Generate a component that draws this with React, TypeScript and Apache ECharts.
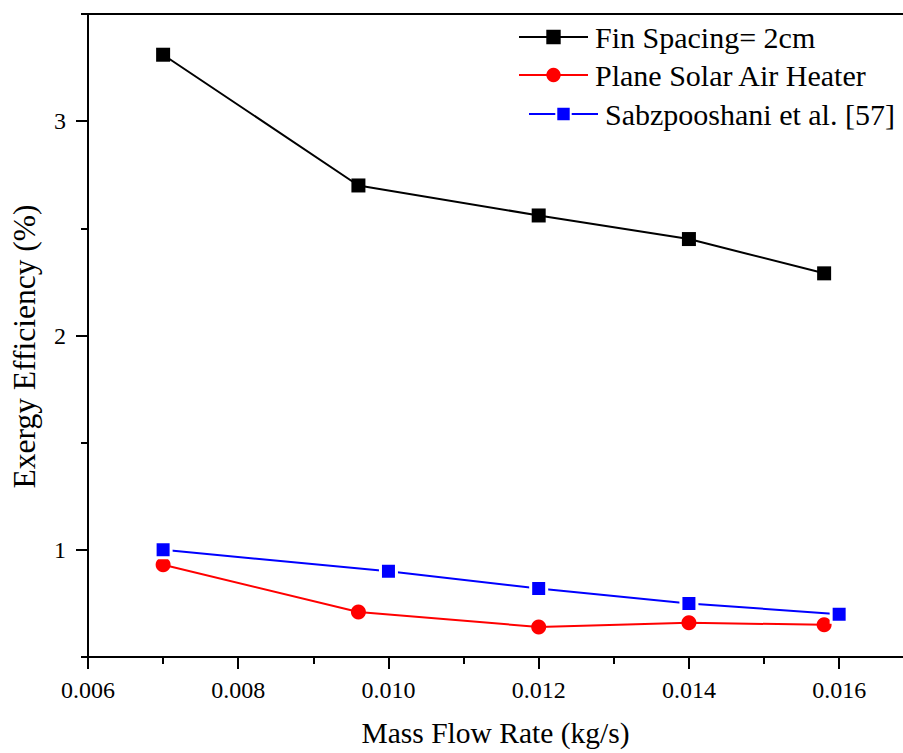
import React, { useEffect, useRef } from "react";
import * as echarts from "echarts";

const finX = [0.007, 0.0096, 0.012, 0.014, 0.0158];
const finY = [3.31, 2.7, 2.56, 2.45, 2.29];
const planeX = [0.007, 0.0096, 0.012, 0.014, 0.0158];
const planeY = [0.93, 0.71, 0.64, 0.66, 0.65];
const sabX = [0.007, 0.01, 0.012, 0.014, 0.016];
const sabY = [1.0, 0.9, 0.82, 0.75, 0.7];

const xMajorTicks = [0.006, 0.008, 0.01, 0.012, 0.014, 0.016];
const xMinorTicks = [0.007, 0.009, 0.011, 0.013, 0.015];
const yMajorTicks = [1, 2, 3];
const yMinorTicks = [0.5, 1.5, 2.5, 3.5];

const seriesNames = ["Fin Spacing= 2cm", "Plane Solar Air Heater", "Sabzpooshani et al. [57]"];

const FONT = "Liberation Serif";
const X_MIN = 0.006;
const X_MAX = 0.01685;
const Y_MIN = 0.5;
const Y_MAX = 3.5;

function pairs(xs: number[], ys: number[]) {
  return xs.map((x, i) => [x, ys[i]]);
}

export default function App() {
  const ref = useRef<HTMLDivElement>(null);
  useEffect(() => {
    if (!ref.current) return;
    const chart = echarts.init(ref.current, undefined, { renderer: "svg" });
    const legendText = { fontFamily: FONT, fontSize: 30, color: "#000", padding: [0, 0, 0, 2] };
    const baseLegend = {
      orient: "vertical",
      padding: 0,
      itemWidth: 69,
      itemHeight: 18,
      textStyle: legendText,
    };
    const tickLabel = { fontFamily: FONT, fontSize: 24, color: "#000" };
    chart.setOption({
      animation: false,
      backgroundColor: "#fff",
      textStyle: { fontFamily: FONT },
      grid: { left: 88, right: 0, top: 14, bottom: 95, containLabel: false },
      legend: [
        { ...baseLegend, data: [seriesNames[0]], left: 518, top: 22 },
        { ...baseLegend, data: [seriesNames[1]], left: 518, top: 60 },
        { ...baseLegend, data: [seriesNames[2]], left: 528, top: 99 },
      ],
      xAxis: [
        {
          type: "value",
          position: "bottom",
          min: X_MIN,
          max: X_MAX,
          interval: 0.002,
          axisLine: { show: true, lineStyle: { color: "#000", width: 2 } },
          axisTick: { show: true, inside: false, length: 12, customValues: xMajorTicks, lineStyle: { color: "#000", width: 2 } },
          axisLabel: {
            show: true,
            customValues: xMajorTicks,
            formatter: (v: number) => "{t|" + v.toFixed(3) + "}",
            margin: 21,
            ...tickLabel,
            rich: { t: { ...tickLabel } },
          },
          splitLine: { show: false },
          name: "Mass Flow Rate (kg/s)",
          nameLocation: "middle",
          nameGap: 61,
          nameTextStyle: { fontFamily: FONT, fontSize: 29.5, color: "#000" },
        },
        {
          type: "value",
          position: "bottom",
          min: X_MIN,
          max: X_MAX,
          axisLine: { show: false },
          axisTick: { show: true, inside: false, length: 7, customValues: xMinorTicks, lineStyle: { color: "#000", width: 2 } },
          axisLabel: { show: false },
          splitLine: { show: false },
        },
        {
          type: "value",
          position: "top",
          min: X_MIN,
          max: X_MAX,
          axisLine: { show: true, lineStyle: { color: "#000", width: 2 } },
          axisTick: { show: false },
          axisLabel: { show: false },
          splitLine: { show: false },
        },
      ],
      yAxis: [
        {
          type: "value",
          position: "left",
          min: Y_MIN,
          max: Y_MAX,
          interval: 0.5,
          axisLine: { show: true, lineStyle: { color: "#000", width: 2 } },
          axisTick: { show: true, inside: false, length: 12, customValues: yMajorTicks, lineStyle: { color: "#000", width: 2 } },
          axisLabel: {
            show: true,
            customValues: yMajorTicks,
            formatter: (v: number) => "{t|" + v + "}",
            margin: 22,
            ...tickLabel,
            rich: { t: { ...tickLabel } },
          },
          splitLine: { show: false },
          name: "Exergy Efficiency (%)",
          nameLocation: "middle",
          nameGap: 48,
          nameTextStyle: { fontFamily: FONT, fontSize: 31.5, color: "#000", padding: [0, 22, 0, 0] },
        },
        {
          type: "value",
          position: "left",
          min: Y_MIN,
          max: Y_MAX,
          axisLine: { show: false },
          axisTick: { show: true, inside: false, length: 7, customValues: yMinorTicks, lineStyle: { color: "#000", width: 2 } },
          axisLabel: { show: false },
          splitLine: { show: false },
        },
      ],
      series: [
        {
          name: seriesNames[0],
          type: "line",
          data: pairs(finX, finY),
          symbol: "rect",
          symbolSize: 14,
          itemStyle: { color: "#000" },
          lineStyle: { color: "#000", width: 2 },
        },
        {
          name: seriesNames[1],
          type: "line",
          data: pairs(planeX, planeY),
          symbol: "circle",
          symbolSize: 15,
          itemStyle: { color: "#ff0000" },
          lineStyle: { color: "#ff0000", width: 2 },
        },
        {
          name: seriesNames[2],
          type: "line",
          data: pairs(sabX, sabY),
          symbol: "rect",
          symbolSize: 16,
          itemStyle: { color: "#0000ff", borderColor: "#fff", borderWidth: 3 },
          lineStyle: { color: "#0000ff", width: 2 },
        },
      ],
    });
    return () => chart.dispose();
  }, []);
  return (
    <div
      ref={ref}
      style={{ position: "absolute", left: 0, top: 0, width: 903, height: 753, background: "#fff" }}
    />
  );
}
